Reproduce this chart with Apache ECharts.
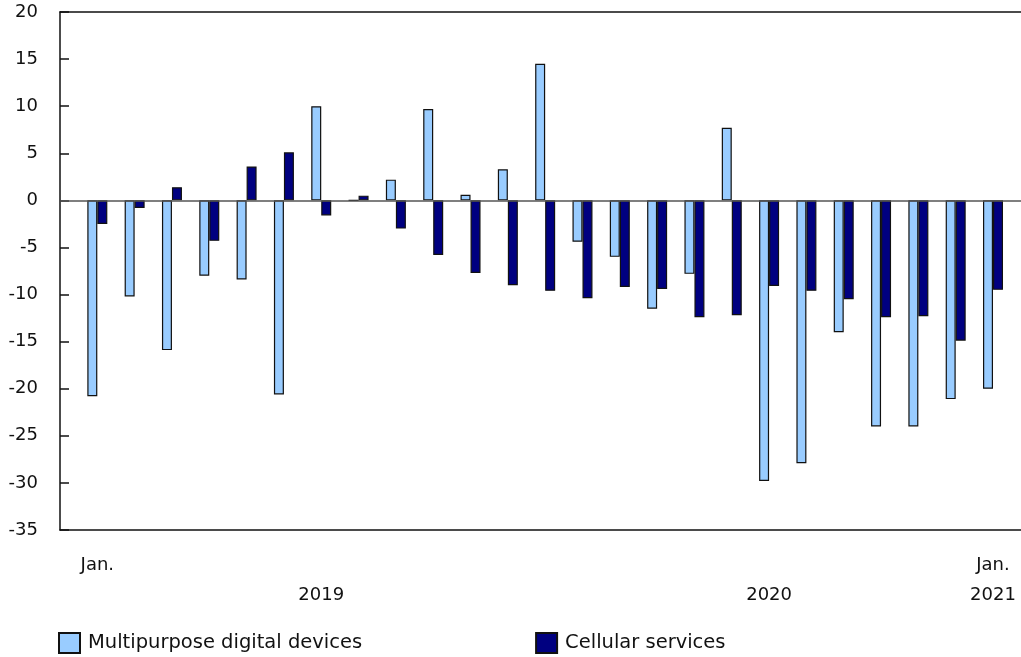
<!DOCTYPE html>
<html>
<head>
<meta charset="utf-8">
<script src="https://cdn.jsdelivr.net/npm/echarts@6/dist/echarts.min.js"></script>
<style>
  html, body { margin: 0; padding: 0; background: #fff; }
  #main { width: 1021px; height: 657px; }
</style>
</head>
<body>
<div id="main"></div>
<script>
"use strict";
// monthly % change, Jan 2019 .. Jan 2021
const months = [
  "2019-01", "2019-02", "2019-03", "2019-04", "2019-05", "2019-06", "2019-07", "2019-08", "2019-09", "2019-10", "2019-11", "2019-12",
  "2020-01", "2020-02", "2020-03", "2020-04", "2020-05", "2020-06", "2020-07", "2020-08", "2020-09", "2020-10", "2020-11", "2020-12",
  "2021-01"
];
const devices = [-20.8, -10.2, -15.9, -8.0, -8.4, -20.6, 10.0, 0.0, 2.2, 9.7, 0.6, 3.3,
  14.5, -4.4, -6.0, -11.5, -7.8, 7.7, -29.8, -27.9, -14.0, -24.0, -24.0, -21.1, -20.0];
const cellular = [-2.5, -0.8, 1.4, -4.3, 3.6, 5.1, -1.6, 0.5, -3.0, -5.8, -7.7, -9.0,
  -9.6, -10.4, -9.2, -9.4, -12.4, -12.2, -9.1, -9.6, -10.5, -12.4, -12.3, -14.9, -9.5];
const seriesNames = ["Multipurpose digital devices", "Cellular services"];

// tick labels (index into months)
const monthTicks = [0, 24];
const monthLabels = ["Jan.", "Jan."];
const yearTicks = [6, 18, 24];
const yearLabels = ["2019", "2020", "2021"];

const font = "Verdana, 'DejaVu Sans', sans-serif";
const ink = "#111";

var myChart = echarts.init(document.getElementById("main"), null, { renderer: "canvas" });

function pairs(arr) {
  return arr.map(function (v, i) { return [i, v]; });
}

var baseX = {
  type: "value",
  min: -1,
  max: 24.75,
  splitLine: { show: false },
  axisTick: { show: false }
};

var option = {
  animation: false,
  textStyle: { fontFamily: font, color: ink },
  grid: { left: 60, right: 0, top: 12, bottom: 127 },
  xAxis: [
    Object.assign({}, baseX, {
      position: "bottom",
      axisLine: { onZero: false, lineStyle: { color: ink, width: 1.5 } },
      axisLabel: {
        customValues: monthTicks,
        formatter: function (v) { return monthLabels[monthTicks.indexOf(v)] || ""; },
        fontSize: 18, color: ink, fontFamily: font, margin: 26
      }
    }),
    Object.assign({}, baseX, {
      position: "top",
      axisLine: { onZero: false, lineStyle: { color: ink, width: 1.5 } },
      axisLabel: { show: false }
    }),
    Object.assign({}, baseX, {
      position: "bottom",
      offset: 30,
      axisLine: { show: false, onZero: false },
      axisLabel: {
        customValues: yearTicks,
        formatter: function (v) { return yearLabels[yearTicks.indexOf(v)] || ""; },
        fontSize: 18, color: ink, fontFamily: font, margin: 26
      }
    })
  ],
  yAxis: {
    type: "value",
    min: -35,
    max: 20,
    interval: 5,
    splitLine: { show: false },
    axisLine: { show: true, onZero: false, lineStyle: { color: ink, width: 1.5 } },
    axisTick: { show: true, inside: true, length: 9, lineStyle: { color: ink, width: 1.5 } },
    axisLabel: { fontSize: 18, color: ink, fontFamily: font, margin: 22 }
  },
  legend: {
    left: 53,
    top: 627,
    icon: "rect",
    itemWidth: 21,
    itemHeight: 20,
    itemGap: 173,
    textStyle: { fontSize: 19.5, color: ink, fontFamily: font, padding: [0, 0, 0, 3] },
    data: seriesNames
  },
  series: [
    {
      name: seriesNames[0],
      type: "bar",
      xAxisIndex: 0,
      data: pairs(devices),
      barWidth: 10,
      barGap: "0%",
      itemStyle: { color: "#99ccff", borderColor: "#111", borderWidth: 1.2 },
      markLine: {
        silent: true,
        symbol: "none",
        label: { show: false },
        lineStyle: { color: "#555", type: "solid", width: 1.5 },
        data: [{ yAxis: 0 }]
      }
    },
    {
      name: seriesNames[1],
      type: "bar",
      xAxisIndex: 0,
      data: pairs(cellular),
      barWidth: 10,
      barGap: "0%",
      itemStyle: { color: "#000080", borderColor: "#111", borderWidth: 1.2 }
    }
  ]
};

option && myChart.setOption(option);
</script>
</body>
</html>
